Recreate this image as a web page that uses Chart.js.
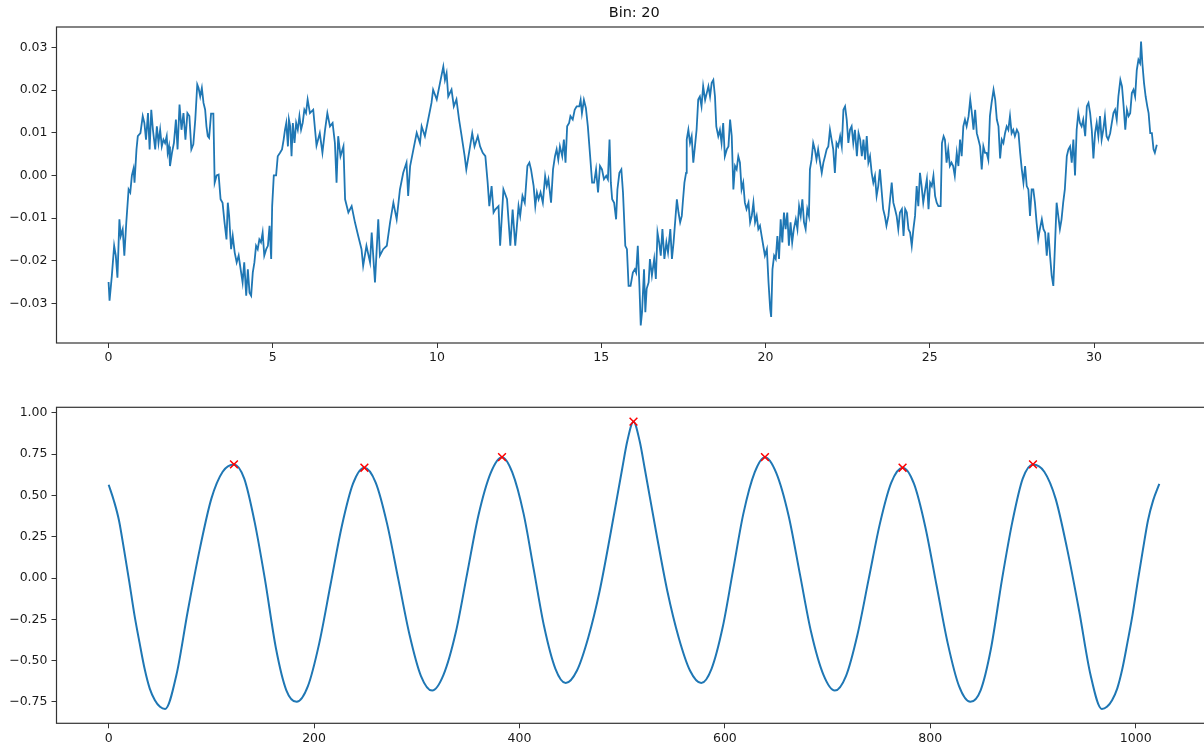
<!DOCTYPE html>
<html>
<head>
<meta charset="utf-8">
<script src="https://cdn.jsdelivr.net/npm/chart.js@4.4.1/dist/chart.umd.min.js"></script>
<style>
  html, body { margin: 0; padding: 0; background: #fff; overflow: hidden; }
  #wrap { position: relative; width: 1204px; height: 749px; overflow: hidden; background: #fff; }
  canvas { position: absolute; left: 0; }
  #sigChart { top: 0; }
  #corrChart { top: 375px; }
</style>
</head>
<body>
<div id="wrap">
  <canvas id="sigChart" width="1220" height="375"></canvas>
  <canvas id="corrChart" width="1220" height="374"></canvas>
</div>
<script>
// ---- signal for the selected bin (time in s, amplitude) ----
const binLabel = 'Bin: 20';

const sigTime = [
  0.00, 0.03, 0.10, 0.17, 0.22, 0.27, 0.33, 0.37, 0.43, 0.48,
  0.54, 0.61, 0.66, 0.71, 0.76, 0.79, 0.85, 0.89, 0.97, 1.04,
  1.09, 1.14, 1.20, 1.25, 1.30, 1.35, 1.42, 1.47, 1.52, 1.57,
  1.62, 1.67, 1.72, 1.77, 1.80, 1.84, 1.87, 1.93, 1.99, 2.05,
  2.10, 2.16, 2.22, 2.28, 2.34, 2.40, 2.46, 2.52, 2.58, 2.64,
  2.70, 2.74, 2.79, 2.84, 2.89, 2.94, 2.98, 3.02, 3.06, 3.12,
  3.19, 3.23, 3.29, 3.35, 3.41, 3.47, 3.53, 3.59, 3.63, 3.67,
  3.73, 3.78, 3.84, 3.90, 3.96, 4.02, 4.08, 4.13, 4.19, 4.24,
  4.29, 4.34, 4.39, 4.44, 4.49, 4.54, 4.59, 4.64, 4.69, 4.74,
  4.80, 4.85, 4.90, 4.95, 4.98, 5.03, 5.10, 5.15, 5.22, 5.28,
  5.33, 5.37, 5.41, 5.46, 5.49, 5.53, 5.57, 5.61, 5.66, 5.71,
  5.76, 5.81, 5.86, 5.91, 5.96, 6.01, 6.06, 6.13, 6.23, 6.33,
  6.43, 6.51, 6.59, 6.66, 6.74, 6.82, 6.89, 6.94, 6.99, 7.06,
  7.15, 7.20, 7.30, 7.40, 7.50, 7.60, 7.70, 7.75, 7.85, 7.96,
  8.01, 8.11, 8.21, 8.26, 8.36, 8.47, 8.57, 8.67, 8.77, 8.87,
  8.97, 9.07, 9.12, 9.18, 9.28, 9.38, 9.48, 9.53, 9.63, 9.73,
  9.83, 9.88, 9.99, 10.09, 10.19, 10.24, 10.29, 10.34, 10.44, 10.51,
  10.59, 10.67, 10.74, 10.84, 10.89, 10.99, 11.07, 11.14, 11.24, 11.31,
  11.39, 11.47, 11.54, 11.59, 11.66, 11.72, 11.77, 11.87, 11.92, 12.02,
  12.13, 12.23, 12.30, 12.38, 12.48, 12.53, 12.60, 12.67, 12.75, 12.81,
  12.86, 12.94, 12.99, 13.04, 13.09, 13.15, 13.22, 13.29, 13.34, 13.39,
  13.47, 13.53, 13.59, 13.64, 13.69, 13.74, 13.81, 13.86, 13.91, 13.96,
  14.02, 14.06, 14.13, 14.19, 14.25, 14.33, 14.37, 14.41, 14.47, 14.53,
  14.59, 14.66, 14.72, 14.78, 14.84, 14.90, 14.96, 15.02, 15.08, 15.15,
  15.20, 15.25, 15.29, 15.33, 15.39, 15.45, 15.49, 15.55, 15.61, 15.66,
  15.73, 15.78, 15.83, 15.89, 15.96, 16.02, 16.06, 16.11, 16.16, 16.20,
  16.24, 16.30, 16.34, 16.38, 16.44, 16.48, 16.54, 16.61, 16.66, 16.71,
  16.76, 16.81, 16.86, 16.92, 16.98, 17.03, 17.10, 17.15, 17.20, 17.30,
  17.35, 17.40, 17.45, 17.48, 17.53, 17.58, 17.60, 17.65, 17.70, 17.75,
  17.80, 17.85, 17.90, 17.95, 18.00, 18.05, 18.10, 18.16, 18.21, 18.26,
  18.31, 18.36, 18.41, 18.46, 18.50, 18.56, 18.61, 18.66, 18.71, 18.76,
  18.82, 18.87, 18.92, 18.97, 19.02, 19.07, 19.12, 19.17, 19.22, 19.27,
  19.32, 19.37, 19.42, 19.48, 19.53, 19.58, 19.63, 19.68, 19.73, 19.78,
  19.83, 19.88, 19.93, 19.98, 20.04, 20.09, 20.14, 20.17, 20.21, 20.26,
  20.31, 20.36, 20.41, 20.46, 20.51, 20.56, 20.61, 20.66, 20.71, 20.76,
  20.81, 20.86, 20.92, 20.97, 21.02, 21.07, 21.12, 21.17, 21.22, 21.27,
  21.32, 21.35, 21.40, 21.45, 21.50, 21.55, 21.60, 21.66, 21.71, 21.76,
  21.81, 21.86, 21.91, 21.96, 22.01, 22.06, 22.11, 22.16, 22.21, 22.27,
  22.32, 22.37, 22.42, 22.47, 22.52, 22.57, 22.62, 22.67, 22.72, 22.78,
  22.83, 22.88, 22.93, 22.98, 23.03, 23.08, 23.13, 23.18, 23.23, 23.28,
  23.33, 23.38, 23.43, 23.48, 23.53, 23.58, 23.63, 23.68, 23.74, 23.79,
  23.84, 23.89, 23.94, 23.99, 24.04, 24.09, 24.15, 24.20, 24.25, 24.30,
  24.35, 24.40, 24.45, 24.50, 24.55, 24.60, 24.65, 24.70, 24.75, 24.80,
  24.86, 24.91, 24.96, 25.01, 25.06, 25.11, 25.16, 25.21, 25.26, 25.33,
  25.37, 25.42, 25.46, 25.51, 25.56, 25.61, 25.66, 25.71, 25.76, 25.82,
  25.87, 25.92, 25.97, 26.02, 26.07, 26.12, 26.18, 26.23, 26.28, 26.33,
  26.38, 26.43, 26.48, 26.53, 26.58, 26.63, 26.68, 26.73, 26.78, 26.83,
  26.88, 26.94, 26.99, 27.04, 27.09, 27.14, 27.19, 27.24, 27.29, 27.34,
  27.39, 27.44, 27.49, 27.54, 27.59, 27.65, 27.70, 27.75, 27.80, 27.85,
  27.90, 27.95, 28.00, 28.05, 28.10, 28.15, 28.20, 28.25, 28.30, 28.35,
  28.41, 28.46, 28.51, 28.56, 28.61, 28.66, 28.71, 28.76, 28.81, 28.86,
  28.91, 28.96, 29.01, 29.06, 29.11, 29.17, 29.22, 29.27, 29.32, 29.37,
  29.42, 29.47, 29.52, 29.57, 29.62, 29.67, 29.73, 29.78, 29.83, 29.88,
  29.93, 29.98, 30.03, 30.08, 30.13, 30.18, 30.23, 30.28, 30.33, 30.38,
  30.43, 30.49, 30.54, 30.59, 30.64, 30.69, 30.74, 30.80, 30.85, 30.90,
  30.95, 31.00, 31.05, 31.10, 31.15, 31.20, 31.25, 31.30, 31.35, 31.40,
  31.43, 31.47, 31.52, 31.57, 31.62, 31.66, 31.71, 31.76, 31.81, 31.85,
  31.91
];

const sigAmp = [
  -0.0250, -0.0294, -0.0235, -0.0165, -0.0188, -0.0240, -0.0103, -0.0142, -0.0126, -0.0188,
  -0.0110, -0.0033, -0.0040, 0.0000, 0.0016, -0.0017, 0.0061, 0.0092, 0.0099, 0.0139,
  0.0123, 0.0084, 0.0146, 0.0061, 0.0154, 0.0107, 0.0061, 0.0115, 0.0076, 0.0107,
  0.0068, 0.0084, 0.0076, 0.0092, 0.0053, 0.0068, 0.0022, 0.0053, 0.0076, 0.0131,
  0.0061, 0.0166, 0.0107, 0.0146, 0.0084, 0.0146, 0.0139, 0.0061, 0.0073, 0.0131,
  0.0213, 0.0205, 0.0185, 0.0205, 0.0170, 0.0154, 0.0115, 0.0092, 0.0088, 0.0145,
  0.0145, -0.0017, 0.0000, 0.0002, -0.0056, -0.0064, -0.0110, -0.0150, -0.0064, -0.0095,
  -0.0173, -0.0142, -0.0181, -0.0204, -0.0188, -0.0220, -0.0251, -0.0204, -0.0282, -0.0220,
  -0.0275, -0.0282, -0.0228, -0.0204, -0.0165, -0.0173, -0.0150, -0.0157, -0.0134, -0.0188,
  -0.0173, -0.0165, -0.0118, -0.0196, -0.0072, 0.0000, 0.0000, 0.0045, 0.0053, 0.0061,
  0.0084, 0.0107, 0.0123, 0.0068, 0.0131, 0.0115, 0.0045, 0.0123, 0.0076, 0.0123,
  0.0107, 0.0139, 0.0107, 0.0123, 0.0154, 0.0146, 0.0178, 0.0146, 0.0154, 0.0070,
  0.0099, 0.0053, 0.0107, 0.0146, 0.0115, 0.0123, 0.0076, -0.0017, 0.0092, 0.0045,
  0.0068, -0.0056, -0.0087, -0.0072, -0.0110, -0.0142, -0.0173, -0.0212, -0.0165, -0.0204,
  -0.0134, -0.0251, -0.0103, -0.0188, -0.0173, -0.0165, -0.0110, -0.0064, -0.0103, -0.0033,
  0.0006, 0.0030, -0.0048, 0.0022, 0.0061, 0.0100, 0.0076, 0.0115, 0.0092, 0.0131,
  0.0170, 0.0201, 0.0178, 0.0217, 0.0255, 0.0224, 0.0240, 0.0185, 0.0201, 0.0162,
  0.0178, 0.0131, 0.0096, 0.0045, 0.0014, 0.0061, 0.0099, 0.0068, 0.0092, 0.0068,
  0.0053, 0.0045, -0.0017, -0.0072, -0.0025, -0.0087, -0.0080, -0.0072, -0.0165, -0.0033,
  -0.0056, -0.0165, -0.0080, -0.0165, -0.0072, -0.0095, -0.0048, -0.0064, 0.0022, 0.0030,
  0.0014, -0.0025, -0.0072, -0.0040, -0.0056, -0.0040, -0.0064, -0.0002, -0.0025, -0.0009,
  -0.0064, 0.0014, 0.0045, 0.0061, 0.0037, 0.0068, 0.0045, 0.0084, 0.0030, 0.0115,
  0.0123, 0.0139, 0.0131, 0.0154, 0.0162, 0.0162, 0.0177, 0.0146, 0.0177, 0.0158,
  0.0115, 0.0045, -0.0017, -0.0017, 0.0014, -0.0040, 0.0022, 0.0014, -0.0009, -0.0001,
  -0.0009, 0.0084, -0.0017, -0.0056, -0.0064, -0.0103, -0.0033, 0.0006, 0.0014, -0.0040,
  -0.0165, -0.0173, -0.0259, -0.0259, -0.0228, -0.0220, -0.0228, -0.0165, -0.0259, -0.0352,
  -0.0321, -0.0220, -0.0321, -0.0266, -0.0251, -0.0196, -0.0235, -0.0196, -0.0243, -0.0134,
  -0.0157, -0.0188, -0.0126, -0.0196, -0.0157, -0.0181, -0.0126, -0.0196, -0.0157, -0.0056,
  -0.0087, -0.0110, -0.0095, -0.0064, -0.0017, 0.0006, 0.0084, 0.0107, 0.0076, 0.0092,
  0.0030, 0.0068, 0.0107, 0.0178, 0.0185, 0.0162, 0.0209, 0.0177, 0.0193, 0.0209,
  0.0185, 0.0217, 0.0224, 0.0185, 0.0115, 0.0092, 0.0107, 0.0076, 0.0123, 0.0045,
  0.0061, 0.0068, 0.0131, 0.0092, -0.0033, 0.0022, 0.0014, 0.0045, 0.0030, -0.0033,
  -0.0017, -0.0064, -0.0079, -0.0064, -0.0110, -0.0095, -0.0064, -0.0110, -0.0095, -0.0126,
  -0.0118, -0.0142, -0.0165, -0.0188, -0.0173, -0.0251, -0.0313, -0.0332, -0.0220, -0.0188,
  -0.0196, -0.0142, -0.0196, -0.0103, -0.0157, -0.0087, -0.0126, -0.0087, -0.0165, -0.0110,
  -0.0157, -0.0126, -0.0103, -0.0126, -0.0072, -0.0095, -0.0056, -0.0110, -0.0126, -0.0079,
  -0.0095, 0.0014, 0.0037, 0.0076, 0.0061, 0.0037, 0.0061, 0.0030, 0.0006, 0.0030,
  0.0045, 0.0061, 0.0068, 0.0107, 0.0084, 0.0061, 0.0006, 0.0076, 0.0068, 0.0092,
  0.0068, 0.0154, 0.0162, 0.0131, 0.0076, 0.0107, 0.0115, 0.0076, 0.0107, 0.0045,
  0.0099, 0.0084, 0.0045, 0.0084, 0.0037, 0.0092, 0.0030, 0.0045, 0.0006, -0.0017,
  -0.0001, -0.0048, -0.0025, 0.0014, -0.0033, -0.0079, -0.0095, -0.0118, -0.0095, -0.0056,
  -0.0017, -0.0064, -0.0079, -0.0095, -0.0126, -0.0087, -0.0079, -0.0142, -0.0079, -0.0087,
  -0.0126, -0.0134, -0.0165, -0.0126, -0.0095, -0.0025, -0.0072, 0.0006, -0.0025, -0.0064,
  -0.0033, -0.0009, -0.0079, -0.0017, -0.0025, -0.0001, -0.0048, -0.0064, -0.0072, -0.0072,
  0.0076, 0.0092, 0.0084, 0.0030, 0.0061, 0.0022, 0.0030, 0.0022, -0.0001, 0.0053,
  0.0022, 0.0084, 0.0045, 0.0115, 0.0131, 0.0115, 0.0139, 0.0178, 0.0146, 0.0107,
  0.0154, 0.0099, 0.0084, 0.0068, 0.0014, 0.0068, 0.0053, 0.0053, 0.0037, 0.0139,
  0.0170, 0.0201, 0.0178, 0.0131, 0.0115, 0.0040, 0.0084, 0.0076, 0.0099, 0.0115,
  0.0107, 0.0139, 0.0099, 0.0107, 0.0092, 0.0107, 0.0099, 0.0053, 0.0014, -0.0017,
  0.0022, -0.0025, -0.0033, -0.0095, -0.0033, -0.0033, -0.0064, -0.0110, -0.0149, -0.0126,
  -0.0103, -0.0126, -0.0134, -0.0188, -0.0134, -0.0188, -0.0235, -0.0259, -0.0165, -0.0064,
  -0.0095, -0.0126, -0.0103, -0.0064, -0.0033, 0.0045, 0.0061, 0.0068, 0.0030, 0.0084,
  0.0000, 0.0107, 0.0146, 0.0123, 0.0115, 0.0131, 0.0092, 0.0162, 0.0170, 0.0146,
  0.0107, 0.0040, 0.0099, 0.0123, 0.0092, 0.0139, 0.0084, 0.0107, 0.0139, 0.0092,
  0.0084, 0.0099, 0.0123, 0.0146, 0.0154, 0.0131, 0.0185, 0.0224, 0.0209, 0.0162,
  0.0107, 0.0154, 0.0139, 0.0146, 0.0193, 0.0201, 0.0185, 0.0247, 0.0271, 0.0263,
  0.0314, 0.0263, 0.0217, 0.0185, 0.0162, 0.0146, 0.0099, 0.0099, 0.0061, 0.0053,
  0.0072
];

// ---- autocorrelation of the signal (lag in samples) and detected peaks ----
const lagX = [
  0, 5, 10, 15, 20, 25, 30, 35, 40, 45, 50, 55,
  66, 77, 89, 100, 111, 122,
  132, 142, 152, 163, 173, 183,
  194, 205, 216, 227, 238, 249,
  260, 271, 282, 293, 304, 315,
  326, 338, 349, 360, 372, 383,
  393, 404, 414, 424, 435, 445,
  456, 467, 478, 489, 500, 505, 511,
  517, 522, 533, 544, 555, 566, 577,
  587, 598, 608, 618, 629, 639,
  650, 662, 673, 684, 696, 707,
  718, 729, 740, 751, 762, 773,
  784, 795, 806, 817, 828, 839,
  849, 859, 870, 880, 890, 900,
  911, 922, 933, 945, 956, 967,
  972, 977, 982, 987, 992, 997, 1002, 1007, 1012, 1017, 1023
];

const corr = [
  0.565, 0.47, 0.35, 0.17, -0.02, -0.22, -0.39, -0.55, -0.67, -0.74, -0.78, -0.793,
  -0.586, -0.201, 0.184, 0.481, 0.644, 0.688,
  0.602, 0.343, -0.002, -0.43, -0.68, -0.750,
  -0.655, -0.396, -0.041, 0.314, 0.573, 0.668,
  0.578, 0.331, -0.007, -0.345, -0.592, -0.682,
  -0.587, -0.329, 0.025, 0.379, 0.637, 0.732,
  0.640, 0.390, 0.048, -0.294, -0.550, -0.636,
  -0.560, -0.360, -0.080, 0.280, 0.662, 0.83, 0.947,
  0.83, 0.662, 0.280, -0.080, -0.360, -0.560, -0.636,
  -0.550, -0.294, 0.048, 0.390, 0.640, 0.732,
  0.637, 0.379, 0.025, -0.329, -0.587, -0.682,
  -0.592, -0.345, -0.007, 0.331, 0.578, 0.668,
  0.573, 0.314, -0.041, -0.396, -0.655, -0.750,
  -0.68, -0.43, -0.002, 0.343, 0.602, 0.688,
  0.644, 0.481, 0.184, -0.201, -0.586, -0.793,
  -0.78, -0.74, -0.67, -0.55, -0.39, -0.22, -0.02, 0.17, 0.35, 0.47, 0.57
];

const peakLags = [122, 249, 383, 511, 639, 773, 900];

// axis ticks
const sigXTicks = [0, 5, 10, 15, 20, 25, 30];
const sigYTicks = [-0.03, -0.02, -0.01, 0.00, 0.01, 0.02, 0.03];
const corrXTicks = [0, 200, 400, 600, 800, 1000];
const corrYTicks = [-0.75, -0.50, -0.25, 0.00, 0.25, 0.50, 0.75, 1.00];

const lineBlue = '#1f77b4';
const fontFamily = "'DejaVu Sans', sans-serif";
Chart.defaults.font.family = fontFamily;
Chart.defaults.color = '#1a1a1a';

// box around the plotting area, like the axes spines
const framePlugin = {
  id: 'frame',
  afterDatasetsDraw(chart) {
    const { ctx, chartArea: a } = chart;
    ctx.save();
    ctx.strokeStyle = '#333';
    ctx.lineWidth = 1.2;
    ctx.strokeRect(a.left, a.top, a.right - a.left, a.bottom - a.top);
    ctx.restore();
  }
};

const fmtMinus = (v, digits) => (v < 0 ? '\u2212' : '') + Math.abs(v).toFixed(digits);

function makeScale(min, max, tickVals, fmt, size, isX, pad) {
  return {
    type: 'linear',
    min: min,
    max: max,
    border: { display: false },
    grid: { drawOnChartArea: false, drawTicks: true, tickLength: 5, tickColor: '#333', tickWidth: 1 },
    ticks: {
      font: { family: fontFamily, size: 12.5 },
      color: '#1a1a1a',
      padding: pad,
      maxRotation: 0,
      autoSkip: false,
      callback: fmt
    },
    afterBuildTicks: s => { s.ticks = tickVals.map(v => ({ value: v })); },
    afterFit: s => { if (isX) s.height = size; else s.width = size; }
  };
}

const sigPoints = sigTime.map((t, i) => ({ x: t, y: sigAmp[i] }));

new Chart(document.getElementById('sigChart'), {
  type: 'line',
  data: {
    datasets: [{
      data: sigPoints,
      borderColor: lineBlue,
      borderWidth: 1.8,
      pointRadius: 0,
      tension: 0,
      fill: false
    }]
  },
  options: {
    responsive: false,
    animation: false,
    events: [],
    layout: { padding: { left: 0, right: 8, top: 0, bottom: 0 } },
    plugins: {
      legend: { display: false },
      tooltip: { enabled: false },
      title: {
        display: true,
        text: binLabel,
        fullSize: false,
        color: '#111',
        font: { family: fontFamily, size: 14.5, weight: 'normal' },
        padding: { top: 5, bottom: 4.6 }
      }
    },
    scales: {
      x: makeScale(-1.585, 33.59, sigXTicks, v => String(v), 32, true, 2),
      y: makeScale(-0.0393, 0.0348, sigYTicks, v => fmtMinus(v, 2), 56.5, false, 4)
    }
  },
  plugins: [framePlugin]
});

const corrPoints = lagX.map((x, i) => ({ x: x, y: corr[i] }));
const peakPoints = peakLags.map(p => ({ x: p, y: corr[lagX.indexOf(p)] }));

new Chart(document.getElementById('corrChart'), {
  type: 'line',
  data: {
    datasets: [
      {
        data: peakPoints,
        showLine: false,
        pointStyle: 'crossRot',
        pointRadius: 5.5,
        borderColor: '#ff0000',
        backgroundColor: '#ff0000',
        borderWidth: 1.5,
        order: 0
      },
      {
        data: corrPoints,
        borderColor: lineBlue,
        borderWidth: 2,
        pointRadius: 0,
        cubicInterpolationMode: 'monotone',
        fill: false,
        order: 1
      }
    ]
  },
  options: {
    responsive: false,
    animation: false,
    events: [],
    layout: { padding: { left: 0, right: 8, top: 32.3, bottom: 0 } },
    plugins: {
      legend: { display: false },
      tooltip: { enabled: false }
    },
    scales: {
      x: makeScale(-50.8, 1074.3, corrXTicks, v => String(v), 25.7, true, 3),
      y: makeScale(-0.880, 1.034, corrYTicks, v => fmtMinus(v, 2), 56.5, false, 4)
    }
  },
  plugins: [framePlugin]
});
</script>
</body>
</html>
